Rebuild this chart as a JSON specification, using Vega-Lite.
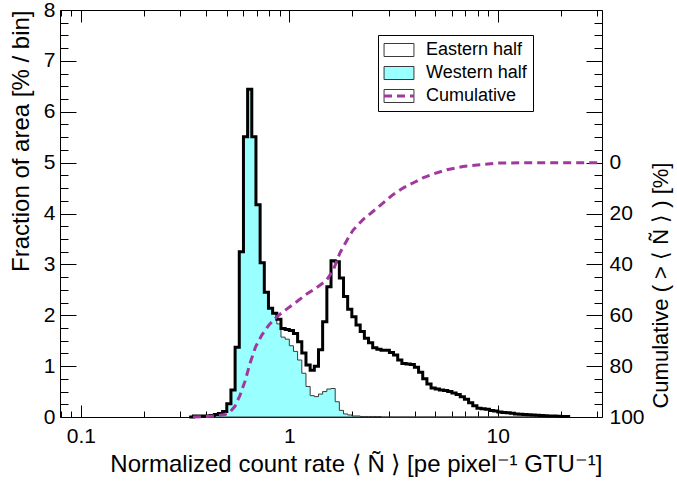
{
  "$schema": "https://vega.github.io/schema/vega-lite/v6.json",
  "width": 542,
  "height": 407,
  "autosize": {"type": "none"},
  "padding": {"left": 60, "top": 10, "right": 75, "bottom": 65},
  "background": "white",
  "config": {
    "view": {"stroke": "black", "strokeWidth": 1},
    "font": "Liberation Sans",
    "axis": {
      "labelFont": "Liberation Sans", "titleFont": "Liberation Sans",
      "labelColor": "black", "titleColor": "black", "titleFontWeight": "normal",
      "domain": false, "grid": false, "tickColor": "black", "tickWidth": 1,
      "zindex": 1, "labelFontSize": 21, "titleFontSize": 24,
      "labelOverlap": false, "labelFlush": false, "labelBound": false
    }
  },
  "datasets": {
    "hist": [
      {"N": 0.3311, "west": 0, "east": 0},
      {"N": 0.3467, "west": 0.01, "east": 0.02},
      {"N": 0.3631, "west": 0.01, "east": 0.02},
      {"N": 0.3802, "west": 0.01, "east": 0.02},
      {"N": 0.3981, "west": 0.02, "east": 0.02},
      {"N": 0.4169, "west": 0.02, "east": 0.03},
      {"N": 0.4365, "west": 0.04, "east": 0.05},
      {"N": 0.4571, "west": 0.06, "east": 0.07},
      {"N": 0.4786, "west": 0.11, "east": 0.11},
      {"N": 0.5012, "west": 0.25, "east": 0.26},
      {"N": 0.5248, "west": 0.53, "east": 0.53},
      {"N": 0.5495, "west": 1.37, "east": 1.37},
      {"N": 0.5754, "west": 3.25, "east": 3.25},
      {"N": 0.6026, "west": 5.51, "east": 5.51},
      {"N": 0.631, "west": 6.44, "east": 6.44},
      {"N": 0.6607, "west": 5.51, "east": 5.51},
      {"N": 0.6918, "west": 4.17, "east": 4.17},
      {"N": 0.7244, "west": 3.03, "east": 3.03},
      {"N": 0.7586, "west": 2.45, "east": 2.45},
      {"N": 0.7943, "west": 2.14, "east": 2.14},
      {"N": 0.8318, "west": 2.04, "east": 2.04},
      {"N": 0.871, "west": 1.83, "east": 1.92},
      {"N": 0.912, "west": 1.57, "east": 1.74},
      {"N": 0.955, "west": 1.53, "east": 1.72},
      {"N": 1.0, "west": 1.4, "east": 1.7},
      {"N": 1.047, "west": 1.29, "east": 1.64},
      {"N": 1.096, "west": 1.12, "east": 1.48},
      {"N": 1.148, "west": 0.86, "east": 1.26},
      {"N": 1.202, "west": 0.6, "east": 1.02},
      {"N": 1.259, "west": 0.42, "east": 0.92},
      {"N": 1.318, "west": 0.4, "east": 1.0},
      {"N": 1.38, "west": 0.45, "east": 1.32},
      {"N": 1.445, "west": 0.5, "east": 1.87},
      {"N": 1.514, "west": 0.55, "east": 2.56},
      {"N": 1.585, "west": 0.56, "east": 3.07},
      {"N": 1.66, "west": 0.3, "east": 3.05},
      {"N": 1.738, "west": 0.13, "east": 2.73},
      {"N": 1.82, "west": 0.06, "east": 2.37},
      {"N": 1.905, "west": 0.04, "east": 2.12},
      {"N": 1.995, "west": 0.02, "east": 1.97},
      {"N": 2.089, "west": 0.02, "east": 1.81},
      {"N": 2.188, "west": 0.01, "east": 1.68},
      {"N": 2.291, "west": 0.01, "east": 1.55},
      {"N": 2.399, "west": 0.01, "east": 1.46},
      {"N": 2.512, "west": 0.01, "east": 1.36},
      {"N": 2.63, "west": 0.01, "east": 1.33},
      {"N": 2.754, "west": 0, "east": 1.31},
      {"N": 2.884, "west": 0, "east": 1.31},
      {"N": 3.02, "west": 0, "east": 1.27},
      {"N": 3.162, "west": 0, "east": 1.22},
      {"N": 3.311, "west": 0, "east": 1.12},
      {"N": 3.467, "west": 0, "east": 1.05},
      {"N": 3.631, "west": 0, "east": 1.04},
      {"N": 3.802, "west": 0, "east": 1.03},
      {"N": 3.981, "west": 0, "east": 0.98},
      {"N": 4.169, "west": 0, "east": 0.88},
      {"N": 4.365, "west": 0, "east": 0.75},
      {"N": 4.571, "west": 0, "east": 0.65},
      {"N": 4.786, "west": 0, "east": 0.57},
      {"N": 5.012, "west": 0, "east": 0.55},
      {"N": 5.248, "west": 0, "east": 0.53},
      {"N": 5.495, "west": 0, "east": 0.52},
      {"N": 5.754, "west": 0, "east": 0.5},
      {"N": 6.026, "west": 0, "east": 0.47},
      {"N": 6.31, "west": 0, "east": 0.44},
      {"N": 6.607, "west": 0, "east": 0.4},
      {"N": 6.918, "west": 0, "east": 0.35},
      {"N": 7.244, "west": 0, "east": 0.28},
      {"N": 7.586, "west": 0, "east": 0.22},
      {"N": 7.943, "west": 0, "east": 0.17},
      {"N": 8.318, "west": 0, "east": 0.16},
      {"N": 8.71, "west": 0, "east": 0.15},
      {"N": 9.12, "west": 0, "east": 0.13},
      {"N": 9.55, "west": 0, "east": 0.12},
      {"N": 10.0, "west": 0, "east": 0.1},
      {"N": 10.47, "west": 0, "east": 0.09},
      {"N": 10.96, "west": 0, "east": 0.085},
      {"N": 11.48, "west": 0, "east": 0.075},
      {"N": 12.02, "west": 0, "east": 0.06},
      {"N": 12.59, "west": 0, "east": 0.055},
      {"N": 13.18, "west": 0, "east": 0.05},
      {"N": 13.8, "west": 0, "east": 0.045},
      {"N": 14.45, "west": 0, "east": 0.04},
      {"N": 15.14, "west": 0, "east": 0.035},
      {"N": 15.85, "west": 0, "east": 0.03},
      {"N": 16.6, "west": 0, "east": 0.025},
      {"N": 17.38, "west": 0, "east": 0.02},
      {"N": 18.2, "west": 0, "east": 0.02},
      {"N": 19.05, "west": 0, "east": 0.015},
      {"N": 19.95, "west": 0, "east": 0.01},
      {"N": 20.89, "west": 0, "east": 0.01},
      {"N": 21.88, "west": 0, "east": 0}
    ],
    "cum": [
      {"N": 0.345, "cum": 100},
      {"N": 0.4398, "cum": 99.6},
      {"N": 0.4913, "cum": 99.0},
      {"N": 0.5191, "cum": 98.0},
      {"N": 0.5486, "cum": 95.8},
      {"N": 0.5798, "cum": 91.5},
      {"N": 0.6127, "cum": 86},
      {"N": 0.6475, "cum": 79},
      {"N": 0.688, "cum": 72.5},
      {"N": 0.7395, "cum": 67.7},
      {"N": 0.7989, "cum": 63.8},
      {"N": 0.8726, "cum": 60.5},
      {"N": 0.9743, "cum": 57.5},
      {"N": 1.088, "cum": 54.6},
      {"N": 1.202, "cum": 51.8},
      {"N": 1.342, "cum": 49.3},
      {"N": 1.499, "cum": 46.5},
      {"N": 1.62, "cum": 42.5},
      {"N": 1.749, "cum": 35.5},
      {"N": 1.89, "cum": 30.5},
      {"N": 2.02, "cum": 26.6},
      {"N": 2.256, "cum": 22.4},
      {"N": 2.519, "cum": 19.2},
      {"N": 2.813, "cum": 15.9},
      {"N": 3.142, "cum": 12.6},
      {"N": 3.509, "cum": 10.0},
      {"N": 3.917, "cum": 8.0},
      {"N": 4.375, "cum": 6.0},
      {"N": 4.887, "cum": 4.5},
      {"N": 5.703, "cum": 2.8},
      {"N": 6.806, "cum": 1.5},
      {"N": 8.211, "cum": 0.8},
      {"N": 9.906, "cum": 0.2},
      {"N": 12.77, "cum": 0.05},
      {"N": 31.5, "cum": 0}
    ]
  },
  "layer": [
    {
      "data": {"name": "hist"},
      "layer": [
        {
          "mark": {"type": "area", "interpolate": "step-after", "stroke": "#3a3a3a", "strokeWidth": 1, "fillOpacity": 1, "opacity": 1},
          "encoding": {
            "x": {
              "field": "N", "type": "quantitative",
              "scale": {"type": "log", "domain": [0.07943, 31.62], "nice": false},
              "axis": {
                "orient": "bottom",
                "values": [0.1, 1, 10],
                "format": "~g",
                "tickSize": -12,
                "labelPadding": 20,
                "title": "Normalized count rate ⟨ Ñ ⟩ [pe pixel⁻¹ GTU⁻¹]",
                "titleAnchor": "end",
                "titlePadding": 6
              }
            },
            "y": {
              "field": "west", "type": "quantitative",
              "scale": {"domain": [0, 8], "nice": false},
              "axis": {
                "orient": "left",
                "values": [0, 1, 2, 3, 4, 5, 6, 7, 8],
                "format": "d",
                "tickSize": -16,
                "labelPadding": 21,
                "title": "Fraction of area [% / bin]",
                "titleAnchor": "end",
                "titlePadding": 10
              }
            },
            "color": {
              "datum": "Western half", "type": "nominal",
              "scale": {"domain": ["Eastern half", "Western half", "Cumulative"], "range": ["#ffffff", "#99ffff", "transparent"]},
              "legend": {
                "orient": "none", "legendX": 318, "legendY": 25,
                "title": null,
                "padding": 6,
                "strokeColor": "black", "fillColor": "white",
                "symbolType": "M-2.3,-1H2.3V1H-2.3Z",
                "symbolSize": 169, "symbolOffset": 6, "symbolStrokeWidth": 1,
                "labelOffset": 18, "labelFontSize": 18, "labelFont": "Liberation Sans", "labelColor": "black",
                "rowPadding": 5,
                "zindex": 1,
                "encode": {
                  "symbols": {
                    "stroke": {"condition": {"test": "datum.value === 'Cumulative'", "value": "transparent"}, "value": "#000000"}
                  }
                }
              }
            }
          }
        },
        {
          "mark": {"type": "line", "interpolate": "step-after", "stroke": "#000000", "strokeWidth": 3},
          "encoding": {
            "x": {
              "field": "N", "type": "quantitative",
              "axis": {
                "orient": "bottom",
                "values": [0.08, 0.09, 0.2, 0.3, 0.4, 0.5, 0.6, 0.7, 0.8, 0.9, 2, 3, 4, 5, 6, 7, 8, 9, 20, 30],
                "labels": false, "tickSize": -6, "title": null
              }
            },
            "y": {
              "field": "east", "type": "quantitative",
              "axis": {
                "orient": "left",
                "values": [0.25, 0.5, 0.75, 1.25, 1.5, 1.75, 2.25, 2.5, 2.75, 3.25, 3.5, 3.75, 4.25, 4.5, 4.75, 5.25, 5.5, 5.75, 6.25, 6.5, 6.75, 7.25, 7.5, 7.75],
                "labels": false, "tickSize": -8, "title": null
              }
            }
          }
        }
      ],
      "resolve": {"axis": {"x": "independent", "y": "independent"}}
    },
    {
      "data": {"name": "cum"},
      "mark": {"type": "line", "stroke": "#a0389f", "strokeWidth": 3},
      "encoding": {
        "x": {
          "field": "N", "type": "quantitative",
          "axis": {"orient": "top", "values": [0.1, 1, 10], "labels": false, "tickSize": -12, "title": null}
        },
        "y": {
          "field": "cum", "type": "quantitative",
          "scale": {"domain": [-60, 100], "reverse": true, "nice": false, "zero": false},
          "axis": {
            "orient": "right",
            "values": [-60, -40, -20, 0, 20, 40, 60, 80, 100],
            "labelExpr": "datum.value >= 0 ? datum.label : ''",
            "tickSize": -16,
            "labelPadding": 23,
            "title": "Cumulative     (    >  ⟨ Ñ ⟩    )     [%]",
            "titleFontSize": 22,
            "titleAngle": 270,
            "titleAlign": "right",
            "titleBaseline": "middle",
            "titleX": 58,
            "titleY": 152
          }
        },
        "strokeDash": {
          "datum": "Cumulative", "type": "nominal",
          "scale": {"domain": ["Cumulative"], "range": [[8, 5]]},
          "legend": {
            "orient": "none", "legendX": 324, "legendY": 69.5,
            "title": null,
            "padding": 0,
            "strokeColor": "transparent", "fillColor": "transparent",
            "symbolType": "stroke",
            "symbolSize": 900, "symbolOffset": -1.5, "symbolStrokeWidth": 3, "symbolStrokeColor": "#a0389f",
            "labelExpr": "''",
            "labelOffset": 3, "labelFontSize": 18,
            "zindex": 2
          }
        }
      }
    },
    {
      "data": {"name": "cum"},
      "mark": {"type": "line", "stroke": "#a0389f", "strokeWidth": 3, "opacity": 0},
      "encoding": {
        "x": {
          "field": "N", "type": "quantitative",
          "axis": {"orient": "top", "values": [0.08, 0.09, 0.2, 0.3, 0.4, 0.5, 0.6, 0.7, 0.8, 0.9, 2, 3, 4, 5, 6, 7, 8, 9, 20, 30], "labels": false, "tickSize": -6, "title": null}
        },
        "y": {
          "field": "cum", "type": "quantitative",
          "scale": {"domain": [-60, 100], "reverse": true, "nice": false, "zero": false},
          "axis": {
            "orient": "right",
            "values": [-55, -50, -45, -35, -30, -25, -15, -10, -5, 5, 10, 15, 25, 30, 35, 45, 50, 55, 65, 70, 75, 85, 90, 95],
            "labels": false, "tickSize": -8, "title": null
          }
        }
      }
    }
  ],
  "resolve": {"scale": {"y": "independent"}, "axis": {"x": "independent", "y": "independent"}}
}
